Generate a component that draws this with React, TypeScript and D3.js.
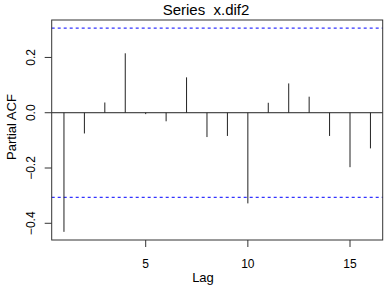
import React from "react";
import * as d3 from "d3";

const lags = [1, 2, 3, 4, 5, 6, 7, 8, 9, 10, 11, 12, 13, 14, 15, 16];
const pacfValues = [-0.431, -0.075, 0.037, 0.215, -0.005, -0.031, 0.128, -0.088, -0.084, -0.328, 0.036, 0.106, 0.058, -0.084, -0.197, -0.129];
const ciLimit = 0.306;
const xTicks = [5, 10, 15];
const yTicks = [-0.4, -0.2, 0.0, 0.2];
const titleText = "Series  x.dif2";
const xLabel = "Lag";
const yLabel = "Partial ACF";

const W = 386, H = 287;
const L = 51.7, R = 382.7, T = 20, B = 240;

export default function App() {
  const xmin = d3.min(lags)!, xmax = d3.max(lags)!;
  const xext = (xmax - xmin) * 0.04;
  const x = d3.scaleLinear().domain([xmin - xext, xmax + xext]).range([L, R]);
  const ymin = Math.min(d3.min(pacfValues)!, -ciLimit);
  const ymax = Math.max(d3.max(pacfValues)!, ciLimit);
  const yext = (ymax - ymin) * 0.04;
  const y = d3.scaleLinear().domain([ymin - yext, ymax + yext]).range([B, T]);
  const font = "'Liberation Sans', Arial, sans-serif";
  const axisColor = "#333";
  const fmt = (v: number) => (v === 0 ? "0.0" : d3.format(".1f")(v).replace("-", "\u2212"));
  return (
    <svg width={W} height={H} style={{ position: "absolute", left: 0, top: 0, background: "#fff" }} fontFamily={font}>
      <rect x={0} y={0} width={W} height={H} fill="#fff" />
      {/* CI lines */}
      {[ciLimit, -ciLimit].map((c, i) => (
        <line key={i} x1={L} x2={R} y1={y(c)} y2={y(c)} stroke="#3333ff" strokeWidth={1.2} strokeDasharray="3,3" />
      ))}
      {/* zero line */}
      <line x1={L} x2={R} y1={y(0)} y2={y(0)} stroke="#222" strokeWidth={1} />
      {/* spikes */}
      {lags.map((l, i) => (
        <line key={l} x1={x(l)} x2={x(l)} y1={y(0)} y2={y(pacfValues[i])} stroke="#222" strokeWidth={1} />
      ))}
      {/* box */}
      <rect x={L} y={T} width={R - L} height={B - T} fill="none" stroke={axisColor} strokeWidth={1} />
      {/* x axis ticks */}
      {xTicks.map((t) => (
        <g key={t}>
          <line x1={x(t)} x2={x(t)} y1={B} y2={B + 7} stroke={axisColor} strokeWidth={1} />
          <text x={x(t)} y={B + 28} textAnchor="middle" fontSize={12} fill="#000">{t}</text>
        </g>
      ))}
      {/* y axis ticks */}
      {yTicks.map((t) => (
        <g key={t}>
          <line x1={L - 7} x2={L} y1={y(t)} y2={y(t)} stroke={axisColor} strokeWidth={1} />
          <text transform={`translate(${L - 17},${y(t)}) rotate(-90)`} textAnchor="middle" fontSize={12} fill="#000">{fmt(t)}</text>
        </g>
      ))}
      <text x={206} y={14.5} textAnchor="middle" fontSize={15} fill="#000" style={{ whiteSpace: "pre" }}>{titleText}</text>
      <text x={203} y={282} textAnchor="middle" fontSize={13} fill="#000">{xLabel}</text>
      <text transform={`translate(16,127) rotate(-90)`} textAnchor="middle" fontSize={13} fill="#000">{yLabel}</text>
    </svg>
  );
}
